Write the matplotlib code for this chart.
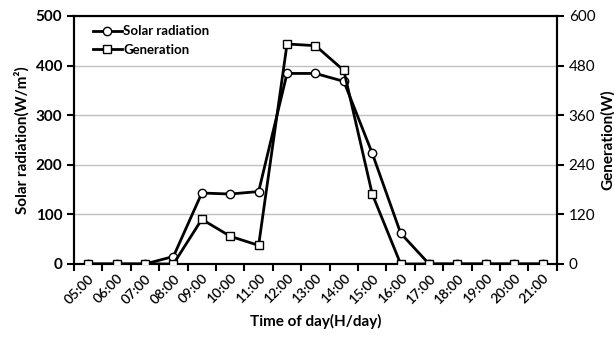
import matplotlib.pyplot as plt

times = ['05:00', '06:00', '07:00', '08:00', '09:00', '10:00', '11:00', '12:00', '13:00',
         '14:00', '15:00', '16:00', '17:00', '18:00', '19:00', '20:00', '21:00']
radiation = [0, 0, 0, 15, 143, 141, 146, 384, 384, 368, 223, 62, 0, 0, 0, 0, 0]
generation = [0, 0, 0, 0, 108, 67, 45, 532, 528, 468, 169, 0, 0, 0, 0, 0, 0]

plt.rcParams['font.family'] = ['Lato', 'DejaVu Sans']

fig = plt.figure(figsize=(6.14, 3.38), dpi=100)
ax = fig.add_axes([0.1205, 0.219, 0.7865, 0.734])
ax2 = ax.twinx()

x = list(range(len(times)))
l1, = ax.plot(x, radiation, color='black', lw=2, marker='o', ms=6,
              mfc='white', mec='black', mew=1, label='Solar radiation', zorder=3)
l2, = ax2.plot(x, generation, color='black', lw=2, marker='s', ms=6,
               mfc='white', mec='black', mew=1, label='Generation', zorder=3)

ax.set_xlim(-0.5, len(times) - 0.5)
ax.set_ylim(0, 500)
ax2.set_ylim(0, 600)
ax.set_yticks(range(0, 501, 100))
ax2.set_yticks(range(0, 601, 120))
ax.grid(axis='y', color='#c0c0c0', lw=1)
ax.set_axisbelow(True)

ax.set_xticks([i + 0.5 for i in range(-1, len(times))])
ax.set_xticklabels([])
ax.set_xticks(x, minor=True)
ax.set_xticklabels(times, minor=True, rotation=45, ha='right', rotation_mode='anchor',
                   fontsize=10, fontweight='semibold')
ax.tick_params(axis='x', which='minor', length=0, pad=6)
ax.tick_params(axis='x', which='major', length=5, width=1.5, direction='out')
ax.tick_params(axis='y', length=5, width=1.5, labelsize=11)
ax2.tick_params(axis='y', length=5, width=1.5, labelsize=11)
for lab in ax.get_yticklabels():
    lab.set_fontweight('bold')

for sp in ax.spines.values():
    sp.set_linewidth(1.5)
for sp in ax2.spines.values():
    sp.set_linewidth(1.5)

ax.set_xlabel('Time of day(H/day)', fontsize=11, fontweight='bold', labelpad=6)
ax.set_ylabel('Solar radiation(W/m²)', fontsize=11, fontweight='bold')
ax2.set_ylabel('Generation(W)', fontsize=11, fontweight='bold')

ax2.legend([l1, l2], ['Solar radiation', 'Generation'], loc='upper left', frameon=False,
           prop={'weight': 'bold', 'size': 9.5}, handlelength=2.2, handletextpad=0.1,
           borderaxespad=0.3, labelspacing=0.5, bbox_to_anchor=(0.02, 1.0))

fig.savefig('out.png', dpi=100)
